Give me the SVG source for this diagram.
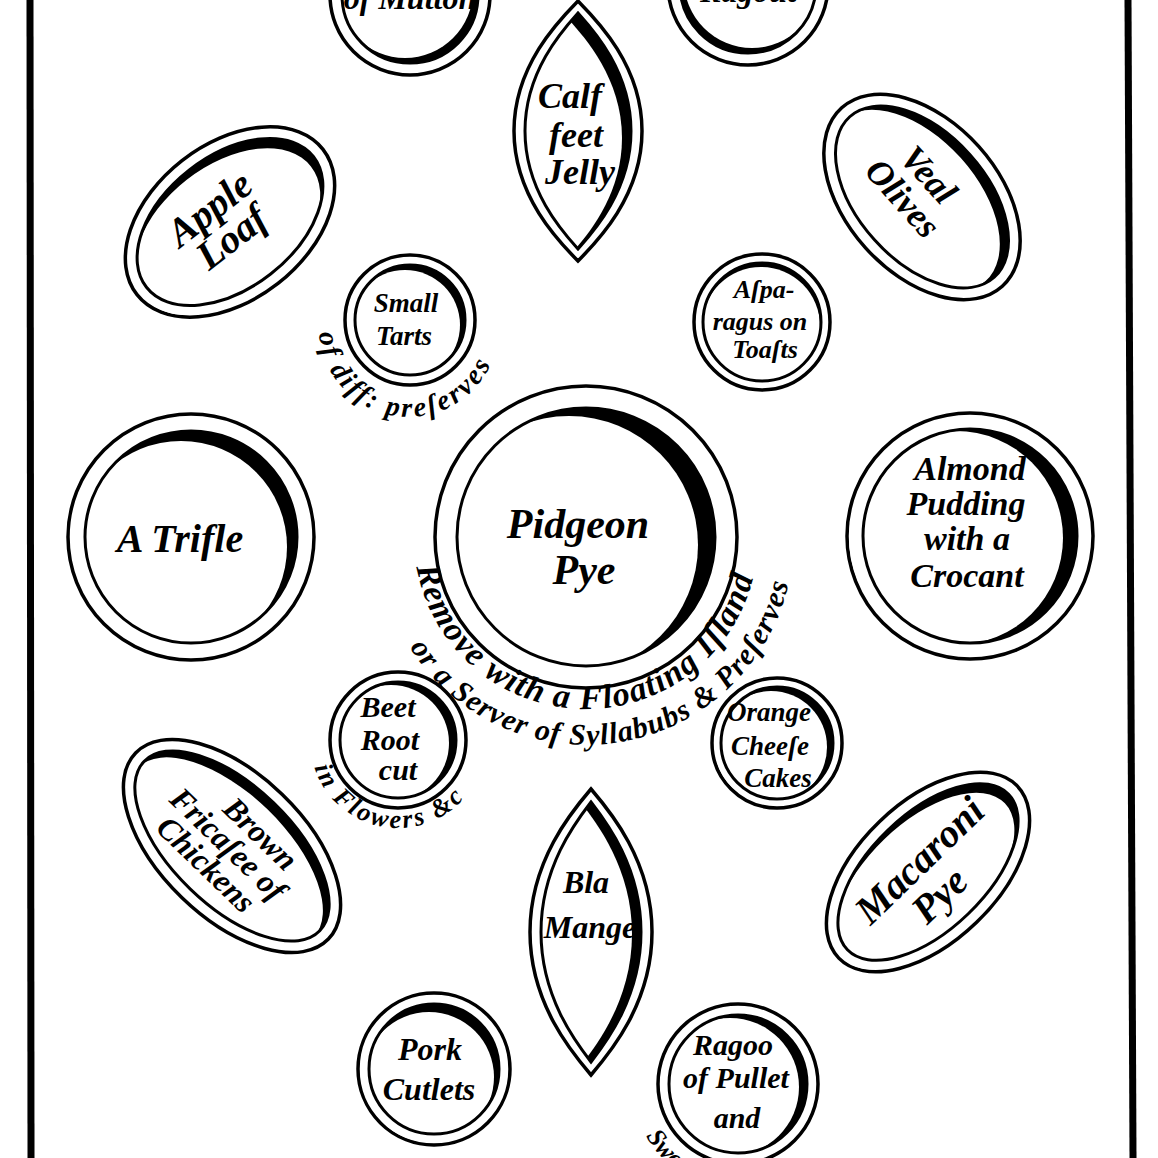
<svg xmlns="http://www.w3.org/2000/svg" xmlns:xlink="http://www.w3.org/1999/xlink" width="1158" height="1158" viewBox="0 0 1158 1158">
<style>
.plate{fill:#fff;stroke:#000;stroke-width:3.5}
.rim{fill:#000}
.well{fill:#fff}
.line{fill:none;stroke:#000;stroke-width:3}
.lbl{font-family:"Liberation Serif","DejaVu Serif",serif;font-style:italic;font-weight:bold;text-anchor:middle;fill:#000}
.note{font-family:"Liberation Serif","DejaVu Serif",serif;font-style:italic;font-weight:bold;fill:#000}
.frame{stroke:#000;stroke-width:7;fill:none}
</style>
<defs>
<path id="arcTarts" d="M 319 333 A 90 90 0 0 0 498 339"/>
<path id="arcPye1" d="M 416.6 566.9 A 172 172 0 0 0 755.9 563.9"/>
<path id="arcPye2" d="M 409.6 647.2 A 208 208 0 0 0 792.4 562.3"/>
<path id="arcBeet" d="M 314.3 767.2 A 88 88 0 0 0 478.4 775.8"/>
<path id="arcRagoo" d="M 646 1136 A 105 105 0 0 0 818 1152"/>
<path id="calfIn" d="M 578 13 C 594 30.7 631 72 631 131 C 631 190 594 231.3 578 249 C 562 231.3 525 190 525 131 C 525 72 562 30.7 578 13 Z"/>
<path id="blaIn" d="M 591 802 C 606 821.5 641 867 641 932 C 641 997 606 1042.5 591 1062 C 576 1042.5 541 997 541 932 C 541 867 576 821.5 591 802 Z"/>
<clipPath id="calfClip"><use xlink:href="#calfIn"/></clipPath>
<clipPath id="blaClip"><use xlink:href="#blaIn"/></clipPath>
</defs>
<rect x="0" y="0" width="1158" height="1158" fill="#fff"/>
<g id="frame">
<line class="frame" x1="30" y1="0" x2="31" y2="1158"/>
<line class="frame" x1="1128" y1="0" x2="1133" y2="1158"/>
</g>

<g id="dish-mutton">
<circle class="plate" cx="410" cy="-5" r="80"/>
<circle class="rim" cx="410" cy="-5" r="68"/>
<circle class="well" cx="405" cy="-10" r="68"/>
<circle class="line" cx="410" cy="-5" r="68"/>
<text class="lbl" x="410" y="9" font-size="32">of Mutton</text>
</g>

<g id="dish-ragout">
<circle class="plate" cx="748" cy="-15" r="80"/>
<circle class="rim" cx="748" cy="-15" r="68"/>
<circle class="well" cx="752" cy="-20" r="68"/>
<circle class="line" cx="748" cy="-15" r="68"/>
<text class="lbl" x="748" y="2" font-size="32">Ragout</text>
</g>

<g id="dish-calf-feet-jelly">
<path class="plate" d="M 578 1 C 597.2 20.5 642 66 642 131 C 642 196 597.2 241.5 578 261 C 558.8 241.5 514 196 514 131 C 514 66 558.8 20.5 578 1 Z"/>
<use xlink:href="#calfIn" class="rim"/>
<g clip-path="url(#calfClip)"><use xlink:href="#calfIn" class="well" transform="translate(-9,7)"/></g>
<use xlink:href="#calfIn" class="line"/>
<text class="lbl" font-size="36"><tspan x="570" y="108">Calf</tspan><tspan x="576" y="147">feet</tspan><tspan x="580" y="184">Jelly</tspan></text>
</g>

<g id="dish-apple-loaf" transform="translate(230,222) rotate(-38)">
<ellipse class="plate" cx="0" cy="0" rx="118" ry="78"/>
<ellipse class="rim" cx="0" cy="0" rx="106" ry="66"/>
<ellipse class="well" cx="-8" cy="6" rx="106" ry="66"/>
<ellipse class="line" cx="0" cy="0" rx="106" ry="66"/>
<text class="lbl" font-size="40"><tspan x="-8" y="-10">Apple</tspan><tspan x="-8" y="26">Loaf</tspan></text>
</g>

<g id="dish-veal-olives" transform="translate(922,197) rotate(48)">
<ellipse class="plate" cx="0" cy="0" rx="120" ry="76"/>
<ellipse class="rim" cx="0" cy="0" rx="108" ry="64"/>
<ellipse class="well" cx="-3" cy="9" rx="108" ry="64"/>
<ellipse class="line" cx="0" cy="0" rx="108" ry="64"/>
<text class="lbl" font-size="36"><tspan x="-12" y="-8">Veal</tspan><tspan x="-12" y="27">Olives</tspan></text>
</g>

<g id="dish-small-tarts">
<circle class="plate" cx="410" cy="320" r="65"/>
<circle class="rim" cx="410" cy="320" r="55"/>
<circle class="well" cx="405" cy="325" r="55"/>
<circle class="line" cx="410" cy="320" r="55"/>
<text class="lbl" font-size="27"><tspan x="406" y="312">Small</tspan><tspan x="404" y="345">Tarts</tspan></text>
<text class="note" font-size="28"><textPath xlink:href="#arcTarts" textLength="238" lengthAdjust="spacing">of diff: preſerves</textPath></text>
</g>

<g id="dish-asparagus">
<circle class="plate" cx="762" cy="322" r="68"/>
<circle class="rim" cx="762" cy="322" r="59"/>
<circle class="well" cx="761" cy="326" r="59"/>
<circle class="line" cx="762" cy="322" r="59"/>
<text class="lbl" font-size="26"><tspan x="764" y="298">Aſpa-</tspan><tspan x="760" y="330">ragus on</tspan><tspan x="765" y="358">Toaſts</tspan></text>
</g>

<g id="dish-a-trifle">
<circle class="plate" cx="191" cy="537" r="123"/>
<circle class="rim" cx="191" cy="537" r="106"/>
<circle class="well" cx="181" cy="547" r="106"/>
<circle class="line" cx="191" cy="537" r="106"/>
<text class="lbl" x="180" y="552" font-size="40">A Trifle</text>
</g>

<g id="dish-pidgeon-pye">
<circle class="plate" cx="586" cy="537" r="151"/>
<circle class="rim" cx="586" cy="537" r="129"/>
<circle class="well" cx="569" cy="545" r="129"/>
<circle class="line" cx="586" cy="537" r="129"/>
<text class="lbl" font-size="42"><tspan x="578" y="538">Pidgeon</tspan><tspan x="584" y="584">Pye</tspan></text>
<text class="note" font-size="34"><textPath xlink:href="#arcPye1" textLength="470" lengthAdjust="spacing">Remove with a Floating Iſland</textPath></text>
<text class="note" font-size="30"><textPath xlink:href="#arcPye2" textLength="490" lengthAdjust="spacing">or a Server of Syllabubs &amp; Preſerves</textPath></text>
</g>

<g id="dish-almond-pudding">
<circle class="plate" cx="970" cy="536" r="123"/>
<circle class="rim" cx="970" cy="536" r="107"/>
<circle class="well" cx="956" cy="538" r="107"/>
<circle class="line" cx="970" cy="536" r="107"/>
<text class="lbl" font-size="34"><tspan x="970" y="480">Almond</tspan><tspan x="966" y="515">Pudding</tspan><tspan x="967" y="550">with a</tspan><tspan x="967" y="587">Crocant</tspan></text>
</g>

<g id="dish-beet-root">
<circle class="plate" cx="398" cy="740" r="68"/>
<circle class="rim" cx="398" cy="740" r="58"/>
<circle class="well" cx="391" cy="743" r="58"/>
<circle class="line" cx="398" cy="740" r="58"/>
<text class="lbl" font-size="30"><tspan x="388" y="717">Beet</tspan><tspan x="390" y="750">Root</tspan><tspan x="398" y="780">cut</tspan></text>
<text class="note" font-size="26"><textPath xlink:href="#arcBeet" textLength="185" lengthAdjust="spacing">in Flowers &amp;c</textPath></text>
</g>

<g id="dish-orange-cheese-cakes">
<circle class="plate" cx="777" cy="743" r="65"/>
<circle class="rim" cx="777" cy="743" r="56"/>
<circle class="well" cx="771" cy="747" r="56"/>
<circle class="line" cx="777" cy="743" r="56"/>
<text class="lbl" font-size="27"><tspan x="769" y="721">Orange</tspan><tspan x="770" y="755">Cheeſe</tspan><tspan x="778" y="787">Cakes</tspan></text>
</g>

<g id="dish-brown-fricasee" transform="translate(232,846) rotate(44)">
<ellipse class="plate" cx="0" cy="0" rx="134" ry="72"/>
<ellipse class="rim" cx="0" cy="0" rx="122" ry="60"/>
<ellipse class="well" cx="0" cy="9" rx="122" ry="60"/>
<ellipse class="line" cx="0" cy="0" rx="122" ry="60"/>
<text class="lbl" font-size="32"><tspan x="12" y="-18">Brown</tspan><tspan x="-4" y="12">Fricaſee of</tspan><tspan x="-6" y="42">Chickens</tspan></text>
</g>

<g id="dish-bla-mange">
<path class="plate" d="M 591 789 C 609.3 810.4 652 860.5 652 932 C 652 1003.5 609.3 1053.6 591 1075 C 572.7 1053.6 530 1003.5 530 932 C 530 860.5 572.7 810.4 591 789 Z"/>
<use xlink:href="#blaIn" class="rim"/>
<g clip-path="url(#blaClip)"><use xlink:href="#blaIn" class="well" transform="translate(-9,2)"/></g>
<use xlink:href="#blaIn" class="line"/>
<text class="lbl" font-size="32"><tspan x="586" y="893">Bla</tspan><tspan x="590" y="938">Mange</tspan></text>
</g>

<g id="dish-macaroni-pye" transform="translate(928,872) rotate(-44)">
<ellipse class="plate" cx="0" cy="0" rx="124" ry="70"/>
<ellipse class="rim" cx="0" cy="0" rx="112" ry="58"/>
<ellipse class="well" cx="-9" cy="4" rx="112" ry="58"/>
<ellipse class="line" cx="0" cy="0" rx="112" ry="58"/>
<text class="lbl" font-size="40"><tspan x="2" y="-1">Macaroni</tspan><tspan x="-8" y="38">Pye</tspan></text>
</g>

<g id="dish-pork-cutlets">
<circle class="plate" cx="434" cy="1069" r="76"/>
<circle class="rim" cx="434" cy="1069" r="65"/>
<circle class="well" cx="429" cy="1077" r="65"/>
<circle class="line" cx="434" cy="1069" r="65"/>
<text class="lbl" font-size="32"><tspan x="430" y="1060">Pork</tspan><tspan x="429" y="1100">Cutlets</tspan></text>
</g>

<g id="dish-ragoo-of-pullet">
<circle class="plate" cx="738" cy="1084" r="80"/>
<circle class="rim" cx="738" cy="1084" r="69"/>
<circle class="well" cx="730" cy="1087" r="69"/>
<circle class="line" cx="738" cy="1084" r="69"/>
<text class="lbl" font-size="30"><tspan x="733" y="1055">Ragoo</tspan><tspan x="736" y="1088">of Pullet</tspan><tspan x="737" y="1128">and</tspan></text>
<text class="note" font-size="26"><textPath xlink:href="#arcRagoo">Sweetbreads</textPath></text>
</g>
</svg>
